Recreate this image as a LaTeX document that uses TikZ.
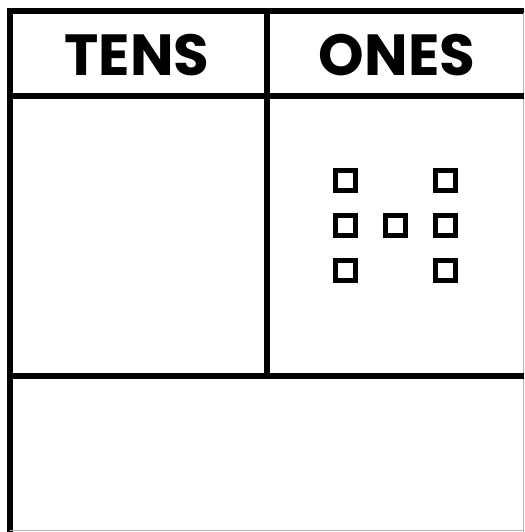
\documentclass[tikz,border=0pt]{standalone}
\usepackage{fontspec}
\setmainfont{Poppins}
\usepackage{tikz}
\usetikzlibrary{positioning}

\begin{document}
\begin{tikzpicture}[x=1pt, y=-1pt,
    rule/.style={line width=5.5pt, black},
    edge/.style={line width=1pt, black!30},
    head/.style={font=\fontsize{58}{58}\selectfont\bfseries, inner sep=0pt},
    unit/.style={rectangle, draw, line width=5pt, minimum size=20pt, inner sep=0pt},
]
\useasboundingbox (0,0) rectangle (524,532);

% Frame
\draw[rule] (9.8,8) -- (9.8,532);
\draw[rule] (7,10.8) -- (524,10.8);
\draw[edge] (523,13) -- (523,532);
\draw[edge] (10,530.5) -- (524,530.5);

% Grid
\draw[rule] (10,96) -- (524,96);
\draw[rule] (267,11) -- (267,376);
\draw[rule] (10,376) -- (524,376);

% Headings
\node[head] (tens) at (137,55.5) {TENS};
\node[head] (ones) at (397,55.5) {ONES};

% Ones blocks
\node[unit] (u1) at (345.5,180) {};
\node[unit] (u2) at (445,180) {};
\node[unit] (u3) at (345.5,225) {};
\node[unit] (u4) at (395,225) {};
\node[unit] (u5) at (445,225) {};
\node[unit] (u6) at (345.5,270) {};
\node[unit] (u7) at (445,270) {};

\end{tikzpicture}
\end{document}
